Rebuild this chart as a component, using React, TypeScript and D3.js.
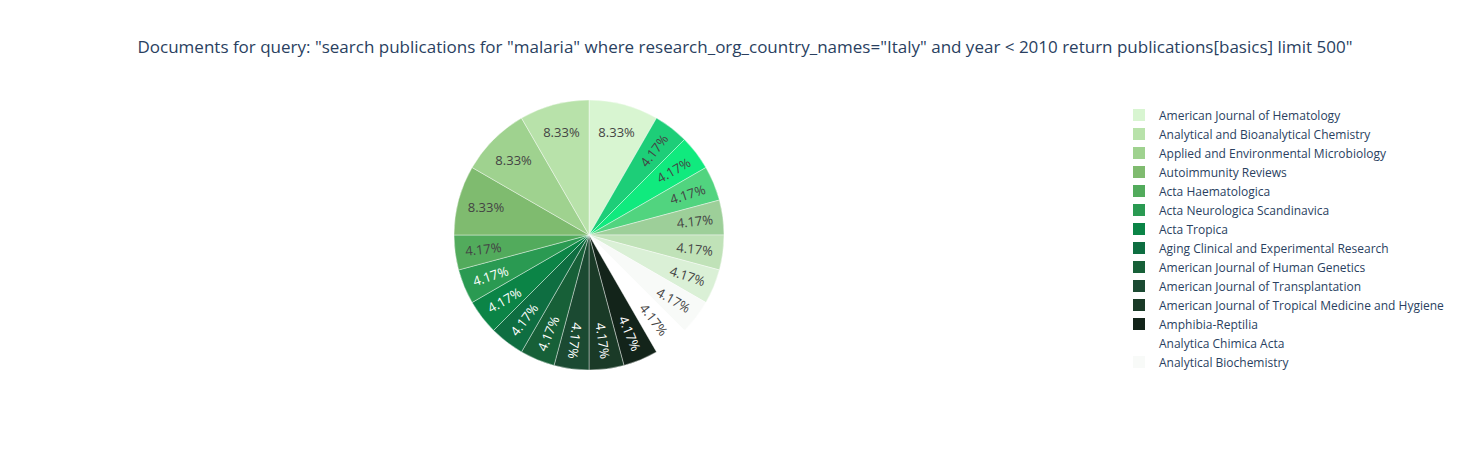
import { useEffect, useRef } from "react";
import * as d3 from "d3";

// legend order (only the first 14 fit in the legend)
const journals = [
  "American Journal of Hematology",
  "Analytical and Bioanalytical Chemistry",
  "Applied and Environmental Microbiology",
  "Autoimmunity Reviews",
  "Acta Haematologica",
  "Acta Neurologica Scandinavica",
  "Acta Tropica",
  "Aging Clinical and Experimental Research",
  "American Journal of Human Genetics",
  "American Journal of Transplantation",
  "American Journal of Tropical Medicine and Hygiene",
  "Amphibia-Reptilia",
  "Analytica Chimica Acta",
  "Analytical Biochemistry",
  "Annals of Tropical Medicine and Parasitology",
  "Antimicrobial Agents and Chemotherapy",
  "Bioorganic & Medicinal Chemistry",
  "Blood",
  "BMC Infectious Diseases",
  "British Journal of Haematology",
];
const counts = [2, 2, 2, 2, 1, 1, 1, 1, 1, 1, 1, 1, 1, 1, 1, 1, 1, 1, 1, 1];
const colors = [
  "#d8f5d1", "#b8e2aa", "#9fd28f", "#7fbb6f", "#52ab5c", "#2a9a52", "#0b8446",
  "#0e6e41", "#176038", "#1b4a32", "#1a3a27", "#13241a", "#ffffff", "#f8faf8",
  "#daf0d6", "#c0e2b8", "#9dcf99", "#51d47f", "#10ea7e", "#1dce78",
];
const darkText = [false, false, false, false, false, true, true, true, true, true, true, true,
  false, false, false, false, false, false, false, false];
const legendShown = 14;
const title =
  'Documents for query: "search publications for "malaria" where research_org_country_names="Italy" and year < 2010 return publications[basics] limit 500"';

const W = 1484, H = 450;

const App = () => {
  const ref = useRef<SVGSVGElement>(null);

  useEffect(() => {
    if (!ref.current) return;
    const svg = d3.select(ref.current);
    svg.selectAll("*").remove();
    const font = '"Open Sans", "DejaVu Sans", sans-serif';

    svg.append("text").attr("x", 745).attr("y", 53).attr("text-anchor", "middle")
      .attr("font-family", font).attr("font-size", 17).attr("fill", "#2a3f5f").text(title);

    const items = journals.map((name, i) => ({ name, v: counts[i], color: colors[i], white: darkText[i] }));
    // first slice sits right of 12 o'clock, the rest run counter-clockwise
    const ordered = [items[0], ...items.slice(1).reverse()];
    const total = d3.sum(counts);

    const cx = 589, cy = 235, r = 135;
    const pie = d3.pie<any>().value((d) => d.v).sort(null);
    const arcs = pie(ordered);
    const arc = d3.arc<any>().innerRadius(0).outerRadius(r);
    const g = svg.append("g").attr("transform", `translate(${cx},${cy})`);

    g.selectAll("path").data(arcs).enter().append("path")
      .attr("d", arc).attr("fill", (d: any) => d.data.color)
      .attr("stroke", "#fff").attr("stroke-width", 0.4);

    arcs.forEach((d: any) => {
      const mid = (d.startAngle + d.endAngle) / 2;
      const deg = (mid * 180) / Math.PI;
      const rr = r * 0.79;
      const x = rr * Math.sin(mid), y = -rr * Math.cos(mid);
      let rot = 0;
      if (d.data.v === 1) {
        const v = Math.min(deg % 180, 180 - (deg % 180));
        if (v < 40) {
          rot = deg - 90;
          if (rot > 100) rot -= 180;
          if (rot < -100) rot += 180;
          if (deg > 180) rot = deg - 270;
          if (deg > 180 && deg < 195) rot = deg - 90;
        } else {
          rot = deg < 180 ? (deg - 90) * 0.8 : (deg - 270) * 0.8;
        }
      }
      g.append("text")
        .attr("transform", `translate(${x},${y}) rotate(${rot})`)
        .attr("text-anchor", "middle").attr("dominant-baseline", "central")
        .attr("font-family", font).attr("font-size", 13)
        .attr("fill", d.data.white ? "#ffffff" : "#444444")
        .text(((d.data.v / total) * 100).toFixed(2) + "%");
    });

    const lg = svg.append("g");
    items.slice(0, legendShown).forEach((d, i) => {
      const y = 115 + i * 19;
      lg.append("rect").attr("x", 1133).attr("y", y - 6).attr("width", 12).attr("height", 12)
        .attr("fill", d.color);
      lg.append("text").attr("x", 1159).attr("y", y).attr("dominant-baseline", "central")
        .attr("font-family", font).attr("font-size", 12).attr("fill", "#2a3f5f").text(d.name);
    });
  }, []);

  return <svg ref={ref} width={W} height={H} style={{ position: "absolute", left: 0, top: 0, background: "#fff" }} />;
};

export default App;
